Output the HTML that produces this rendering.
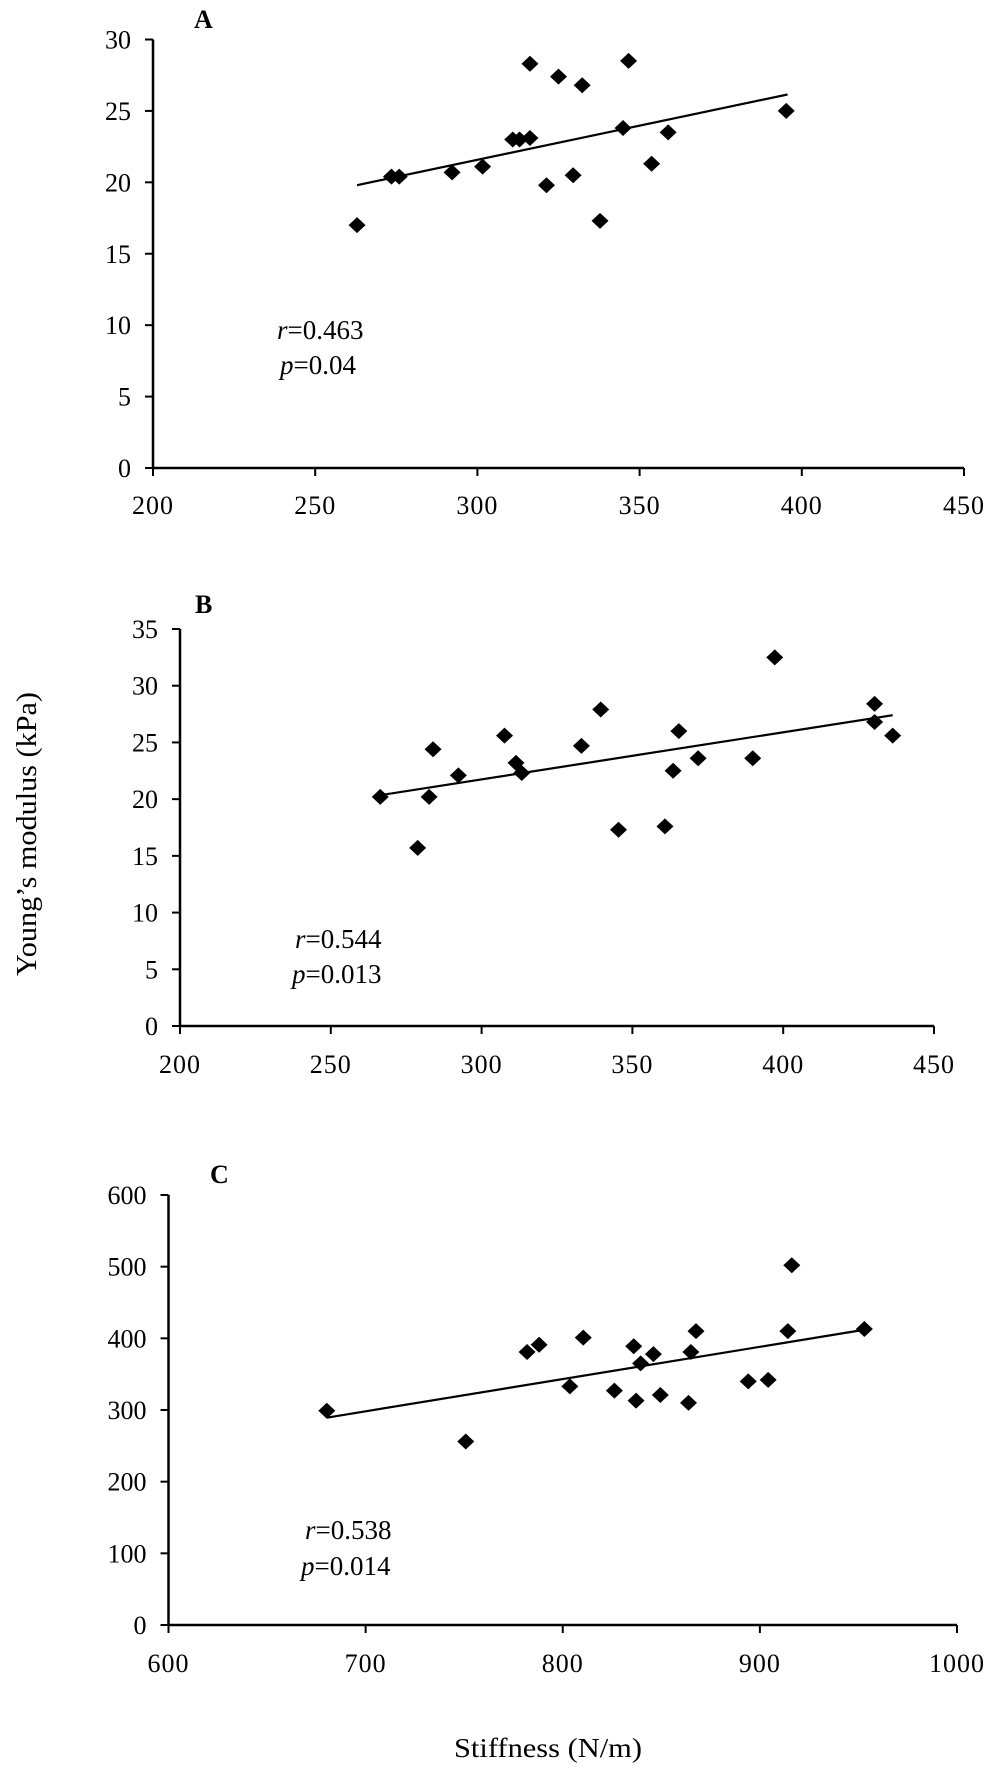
<!DOCTYPE html>
<html><head><meta charset="utf-8"><style>
html,body{margin:0;padding:0;background:#fff}
svg{display:block}
text{font-family:"Liberation Serif",serif;fill:#000}
</style></head><body>
<svg id="fig" width="1000" height="1773" viewBox="0 0 1000 1773" xmlns="http://www.w3.org/2000/svg">
<text x="0" y="0" font-size="28" text-anchor="middle" textLength="284" lengthAdjust="spacingAndGlyphs" transform="translate(36,834) rotate(-90)">Young’s modulus (kPa)</text>
<text x="548" y="1757" font-size="27" text-anchor="middle" textLength="188" lengthAdjust="spacingAndGlyphs">Stiffness (N/m)</text>
</svg>
<script>
// Panel A data
const aX = [262.9,273.5,275.9,292.2,301.6,310.9,313.0,316.2,316.2,325.0,332.3,321.3,329.5,337.8,344.9,346.6,353.7,358.8,395.2];
const aY = [17.0,20.4,20.4,20.7,21.1,23.0,23.0,23.1,28.3,27.4,26.8,19.8,20.5,17.3,23.8,28.5,21.3,23.5,25.0];
const aTrendX = [262.9,395.6];
const aTrendY = [19.8,26.15];
const aXTicks = [200,250,300,350,400,450];
const aYTicks = [0,5,10,15,20,25,30];
// Panel B data
const bX = [266.4,278.8,282.6,283.9,292.3,307.6,311.4,313.3,333.1,339.5,345.4,360.8,363.5,365.4,371.8,389.9,397.2,430.3,430.3,436.3];
const bY = [20.2,15.7,20.2,24.4,22.1,25.6,23.2,22.3,24.7,27.9,17.3,17.6,22.5,26.0,23.6,23.6,32.5,28.4,26.8,25.6];
const bTrendX = [266.4,436.3];
const bTrendY = [20.35,27.4];
const bXTicks = [200,250,300,350,400,450];
const bYTicks = [0,5,10,15,20,25,30,35];
// Panel C data
const cX = [680.3,750.8,781.9,788,803.6,810.4,826.2,836,837.2,839.5,846,849.5,863.8,865,867.6,894.1,904.2,914.2,916.2,953];
const cY = [299,256,381,391,333,401,327,389,313,365,378,321,310,381,410,340,342,410,502,413];
const cTrendX = [680.3,953];
const cTrendY = [289.3,412];
const cXTicks = [600,700,800,900,1000];
const cYTicks = [0,100,200,300,400,500,600];

const NS='http://www.w3.org/2000/svg';
const svg=document.getElementById('fig');
function mk(tag,attrs,parent){const e=document.createElementNS(NS,tag);for(const k in attrs)e.setAttribute(k,attrs[k]);(parent||svg).appendChild(e);return e;}

function panel(cfg){
  const g=mk('g',{});
  
  
  const sx=v=>cfg.left+(v-cfg.xMin)/(cfg.xMax-cfg.xMin)*(cfg.right-cfg.left);
  const sy=v=>cfg.bottom-(v-cfg.yMin)/(cfg.yMax-cfg.yMin)*(cfg.bottom-cfg.top);
  const yAxis=mk('line',{x1:cfg.left,y1:cfg.top,x2:cfg.left,y2:cfg.bottom,stroke:'#000','stroke-width':2.5},g);
  
  
  const xAxis=mk('line',{x1:cfg.left,y1:cfg.bottom,x2:cfg.right,y2:cfg.bottom,stroke:'#000','stroke-width':2.5},g);
  
  
  cfg.yTicks.forEach(v=>{
    const y=sy(v);
    const t=mk('line',{x1:cfg.left-8,y1:y,x2:cfg.left,y2:y,stroke:'#000','stroke-width':2},g);
    
    
    const l=mk('text',{x:cfg.left-22,y:y+9,'font-size':26,'text-anchor':'end'},g);
    
    
    l.textContent=v;
  });
  cfg.xTicks.forEach(v=>{
    const x=sx(v);
    const t=mk('line',{x1:x,y1:cfg.bottom,x2:x,y2:cfg.bottom+8,stroke:'#000','stroke-width':2},g);
    
    
    const l=mk('text',{x:x,y:cfg.xLabY,'font-size':26,'text-anchor':'middle','letter-spacing':'1'},g);
    
    
    l.textContent=v;
  });
  const tl=mk('line',{x1:sx(cfg.tx[0]),y1:sy(cfg.ty[0]),x2:sx(cfg.tx[1]),y2:sy(cfg.ty[1]),stroke:'#000','stroke-width':2.2},g);
  
  
  cfg.xs.forEach((xv,i)=>{
    const x=sx(xv),y=sy(cfg.ys[i]),rx=8.5,ry=8;
    const p=mk('polygon',{points:`${x},${y-ry} ${x+rx},${y} ${x},${y+ry} ${x-rx},${y}`,fill:'#000'},g);
    
    
  });
  const lab=mk('text',{x:cfg.labX,y:cfg.labY,'font-size':26,'font-weight':'bold'},g);
  
  
  lab.textContent=cfg.id;
  const rt=mk('text',{x:cfg.rX,y:cfg.rY,'font-size':27},g);
  
  
  rt.innerHTML='<tspan font-style="italic">r</tspan>='+cfg.r;
  const pt=mk('text',{x:cfg.pX,y:cfg.pY,'font-size':27},g);
  
  
  pt.innerHTML='<tspan font-style="italic">p</tspan>='+cfg.p;
}

panel({id:'A',left:153,right:964,top:39.5,bottom:468,xMin:200,xMax:450,yMin:0,yMax:30,xTicks:aXTicks,yTicks:aYTicks,xs:aX,ys:aY,tx:aTrendX,ty:aTrendY,xLabY:514,labX:194,labY:28,rX:277,rY:339,pX:280,pY:374,r:'0.463',p:'0.04'});
panel({id:'B',left:180,right:934,top:629,bottom:1026,xMin:200,xMax:450,yMin:0,yMax:35,xTicks:bXTicks,yTicks:bYTicks,xs:bX,ys:bY,tx:bTrendX,ty:bTrendY,xLabY:1073,labX:195,labY:613,rX:295,rY:948,pX:292,pY:983,r:'0.544',p:'0.013'});
panel({id:'C',left:168.5,right:957,top:1195,bottom:1625,xMin:600,xMax:1000,yMin:0,yMax:600,xTicks:cXTicks,yTicks:cYTicks,xs:cX,ys:cY,tx:cTrendX,ty:cTrendY,xLabY:1672,labX:210,labY:1183,rX:305,rY:1539,pX:301,pY:1575,r:'0.538',p:'0.014'});
</script>
</body></html>
